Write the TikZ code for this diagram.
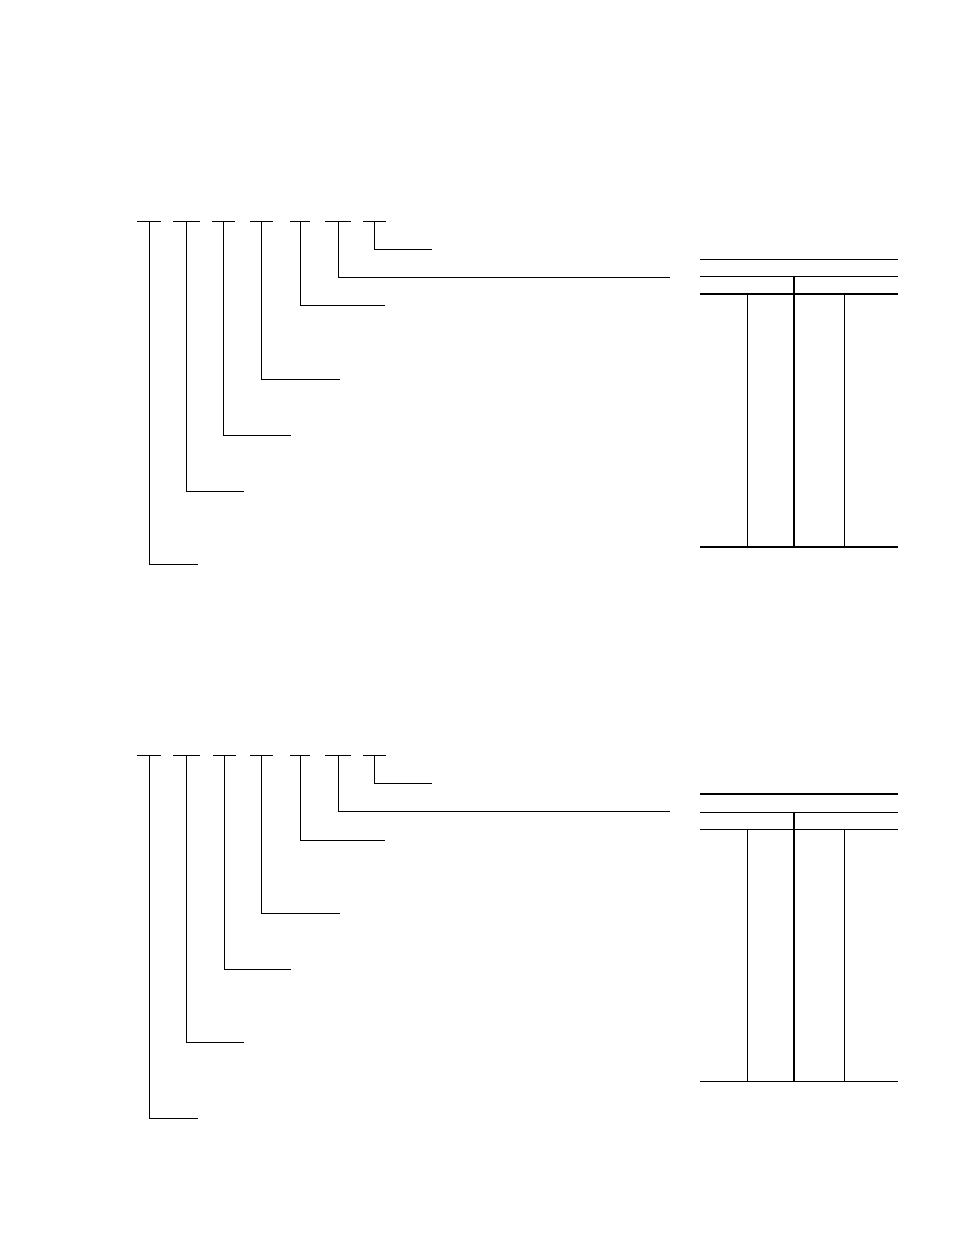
\documentclass[tikz,border=0pt]{standalone}
\usepackage[dvipsnames]{xcolor}

\begin{document}
\begin{tikzpicture}[x=1pt,y=-1pt,line cap=butt,
    rule/.style={line width=1pt},
    heavy rule/.style={line width=1.7pt},
    code bar/.style={inner sep=0pt,minimum height=0pt,minimum width=23pt}]

            \useasboundingbox (0,0) rectangle (954,1235);

            % upper code breakdown
            \node[code bar]  (a1) at (149,221.5) {};
            \node[code bar, minimum width=26pt]  (a2) at (186.5,221.5) {};
            \node[code bar]  (a3) at (223.5,221.5) {};
            \node[code bar]  (a4) at (261.5,221.5) {};
            \node[code bar, minimum width=19pt]  (a5) at (300,221.5) {};
            \node[code bar, minimum width=26pt]  (a6) at (338,221.5) {};
            \node[code bar]  (a7) at (374.5,221.5) {};

            \coordinate (ea1) at (198,564.5);
            \coordinate (ea2) at (244,491);
            \coordinate (ea3) at (291,435);
            \coordinate (ea4) at (340,379);
            \coordinate (ea5) at (385,305);
            \coordinate (ea6) at (670,277);
            \coordinate (ea7) at (432,249.5);

            \path[rule]
                (a1.west) edge (a1.east)
                (a2.west) edge (a2.east)
                (a3.west) edge (a3.east)
                (a4.west) edge (a4.east)
                (a5.west) edge (a5.east)
                (a6.west) edge (a6.east)
                (a7.west) edge (a7.east)
            ;
            \draw[rule] (a1) |- (ea1);
            \draw[rule] (a2) |- (ea2);
            \draw[rule] (a3) |- (ea3);
            \draw[rule] (a4) |- (ea4);
            \draw[rule] (a5) |- (ea5);
            \draw[rule] (a6) |- (ea6);
            \draw[rule] (a7) |- (ea7);

            % upper table
            \draw[rule] (700,259.5) -- (898,259.5);
            \draw[rule] (700,276) -- (898,276);
            \draw[heavy rule] (700,294) -- (898,294);
            \draw[heavy rule] (700,547) -- (898,547);
            \draw[heavy rule] (794,276) -- (794,547);
            \draw[rule] (747.5,294) -- (747.5,547);
            \draw[rule] (844.5,294) -- (844.5,547);

            % lower code breakdown
            \node[code bar]  (b1) at (149,755.5) {};
            \node[code bar, minimum width=26pt]  (b2) at (186.5,755.5) {};
            \node[code bar]  (b3) at (224.5,755.5) {};
            \node[code bar]  (b4) at (261.5,755.5) {};
            \node[code bar, minimum width=19pt]  (b5) at (300,755.5) {};
            \node[code bar, minimum width=26pt]  (b6) at (338,755.5) {};
            \node[code bar]  (b7) at (374.5,755.5) {};

            \coordinate (eb1) at (198,1118);
            \coordinate (eb2) at (244,1042);
            \coordinate (eb3) at (291,969);
            \coordinate (eb4) at (340,913);
            \coordinate (eb5) at (385,840);
            \coordinate (eb6) at (670,811.5);
            \coordinate (eb7) at (432,783.5);

            \path[rule]
                (b1.west) edge (b1.east)
                (b2.west) edge (b2.east)
                (b3.west) edge (b3.east)
                (b4.west) edge (b4.east)
                (b5.west) edge (b5.east)
                (b6.west) edge (b6.east)
                (b7.west) edge (b7.east)
            ;
            \draw[rule] (b1) |- (eb1);
            \draw[rule] (b2) |- (eb2);
            \draw[rule] (b3) |- (eb3);
            \draw[rule] (b4) |- (eb4);
            \draw[rule] (b5) |- (eb5);
            \draw[rule] (b6) |- (eb6);
            \draw[rule] (b7) |- (eb7);

            % lower table
            \draw[heavy rule] (700,794) -- (898,794);
            \draw[rule] (700,812) -- (898,812);
            \draw[rule] (700,829) -- (898,829);
            \draw[rule] (700,1081.5) -- (898,1081.5);
            \draw[heavy rule] (794,812) -- (794,1081.5);
            \draw[rule] (747.5,829) -- (747.5,1081.5);
            \draw[rule] (844.5,829) -- (844.5,1081.5);
        \end{tikzpicture}
\end{document}
